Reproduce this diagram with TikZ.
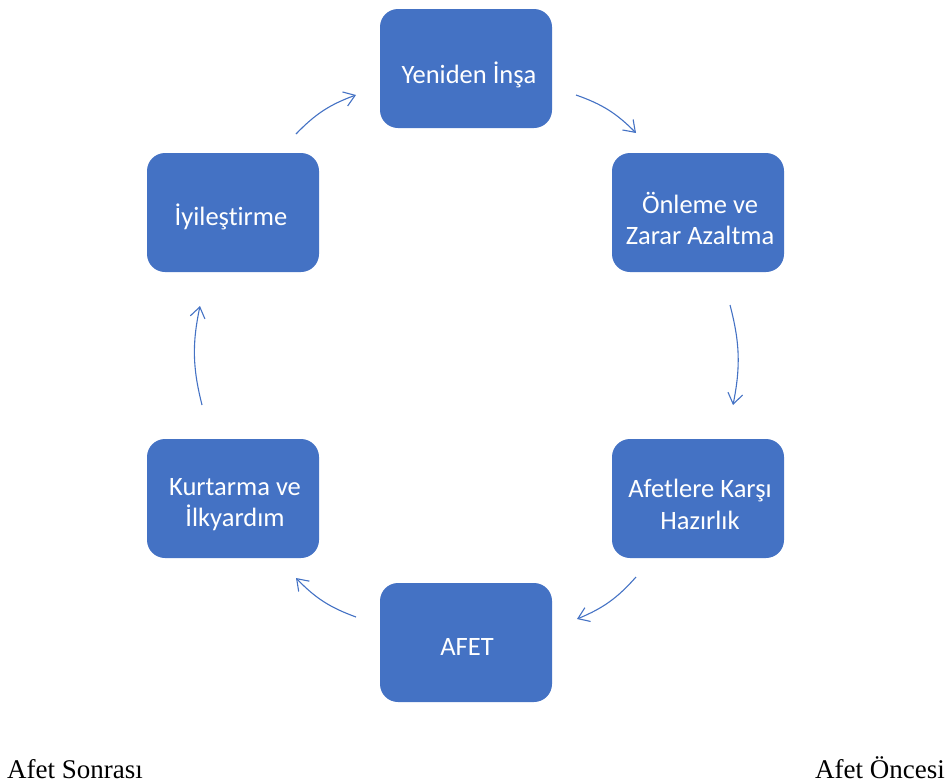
\documentclass[tikz,border=0pt]{standalone}
\usepackage{fontspec}
\setmainfont{Liberation Serif}
\newfontfamily\boxfont[Ligatures={NoCommon}]{Carlito}
\usetikzlibrary{arrows.meta}
\definecolor{offblue}{HTML}{4472C4}
\tikzset{
  stagebox/.style={draw=none, fill=offblue, rounded corners=18pt, minimum width=172pt, minimum height=119pt, inner sep=0pt},
  stagetext/.style={text=white, font=\boxfont\fontsize{26.5}{31.5}\selectfont, align=center, inner sep=0pt},
  cyclearrow/.style={draw=offblue, line width=1.1pt, -{Straight Barb[angle=70:13pt, line width=1.1pt]}, bend left=13},
  sidelabel/.style={font=\fontsize{27}{31}\selectfont, inner sep=0pt}
}
\begin{document}
\begin{tikzpicture}[x=1pt, y=-1pt]
\useasboundingbox (0,0) rectangle (951,782);
\node[stagebox] (b1) at (466,68.5) {};
\node[stagebox] (b2) at (698,212.5) {};
\node[stagebox] (b3) at (698,498.5) {};
\node[stagebox] (b4) at (466,642.5) {};
\node[stagebox] (b5) at (233,498.5) {};
\node[stagebox] (b6) at (233,212.5) {};
\node[stagetext] (t1) at ([xshift=3pt,yshift=-6pt]b1.center) {Yeniden İnşa};
\node[stagetext] (t2) at ([xshift=2pt,yshift=-6pt]b2.center) {Önleme ve\\Zarar Azaltma};
\node[stagetext] (t3) at ([xshift=2pt,yshift=-6pt]b3.center) {Afetlere Karşı\\Hazırlık};
\node[stagetext] (t4) at ([xshift=1pt,yshift=-4pt]b4.center) {AFET};
\node[stagetext] (t5) at ([xshift=2pt,yshift=-6pt]b5.center) {Kurtarma ve\\İlkyardım};
\node[stagetext] (t6) at ([xshift=-2pt,yshift=-4pt]b6.center) {İyileştirme};
\coordinate (a1s) at (296,134); \coordinate (a1e) at (356,95);
\coordinate (a2s) at (576,95);  \coordinate (a2e) at (636,133);
\coordinate (a3s) at (730,305); \coordinate (a3e) at (733,405);
\coordinate (a4s) at (636,577); \coordinate (a4e) at (577,619);
\coordinate (a5s) at (356,617); \coordinate (a5e) at (296,578);
\coordinate (a6s) at (202,405); \coordinate (a6e) at (200,306);
\draw[cyclearrow] (a1s) to (a1e);
\draw[cyclearrow] (a2s) to (a2e);
\draw[cyclearrow] (a3s) to (a3e);
\draw[cyclearrow] (a4s) to (a4e);
\draw[cyclearrow] (a5s) to (a5e);
\draw[cyclearrow] (a6s) to (a6e);
\node[sidelabel, anchor=base west] (l1) at (7,778) {Afet Sonrası};
\node[sidelabel, anchor=base east] (l2) at (945,778) {Afet Öncesi};
\end{tikzpicture}
\end{document}
